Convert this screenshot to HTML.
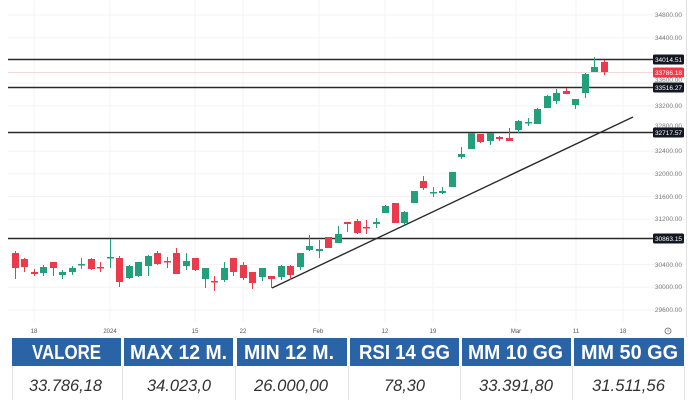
<!DOCTYPE html>
<html><head><meta charset="utf-8"><style>
html,body{margin:0;padding:0;background:#fff;}
svg{display:block;}
.g{fill:#22a07c}.r{fill:#ea3a4b}
.ax{font-family:"Liberation Sans",sans-serif;font-size:6.5px;fill:#7a7a7a;text-anchor:end}
.xl{font-family:"Liberation Sans",sans-serif;font-size:6px;fill:#555;text-anchor:middle}
.lb{font-family:"Liberation Sans",sans-serif;font-size:6.5px;fill:#fff;text-anchor:middle}
.hd{font-family:"Liberation Sans",sans-serif;font-weight:bold;font-size:20px;fill:#fff}
.vl{font-family:"Liberation Sans",sans-serif;font-style:italic;font-size:17px;fill:#333}
</style></head><body>
<svg width="700" height="400" viewBox="0 0 700 400" xmlns="http://www.w3.org/2000/svg">
<rect width="700" height="400" fill="#fff"/>
<!-- grid -->
<g stroke="#f3f3f3" stroke-width="1">
<line x1="8" x2="686" y1="15" y2="15"/><line x1="8" x2="686" y1="37.7" y2="37.7"/><line x1="8" x2="686" y1="83.1" y2="83.1"/><line x1="8" x2="686" y1="105.8" y2="105.8"/><line x1="8" x2="686" y1="151.2" y2="151.2"/><line x1="8" x2="686" y1="173.8" y2="173.8"/><line x1="8" x2="686" y1="196.5" y2="196.5"/><line x1="8" x2="686" y1="219.2" y2="219.2"/><line x1="8" x2="686" y1="264.6" y2="264.6"/><line x1="8" x2="686" y1="287.3" y2="287.3"/><line x1="8" x2="686" y1="310" y2="310"/>
<line x1="34" x2="34" y1="0" y2="322"/><line x1="110" x2="110" y1="0" y2="322"/><line x1="195" x2="195" y1="0" y2="322"/><line x1="243" x2="243" y1="0" y2="322"/><line x1="319" x2="319" y1="0" y2="322"/><line x1="385" x2="385" y1="0" y2="322"/><line x1="433" x2="433" y1="0" y2="322"/><line x1="516" x2="516" y1="0" y2="322"/><line x1="576" x2="576" y1="0" y2="322"/><line x1="623" x2="623" y1="0" y2="322"/>
</g>
<line x1="686.5" x2="686.5" y1="0" y2="337" stroke="#e2e2e2" stroke-width="1"/>
<!-- price line -->
<line x1="8" x2="653" y1="72.5" y2="72.5" stroke="#f2d9db" stroke-width="1"/>
<!-- horizontal levels -->
<g stroke="#2a2a2a" stroke-width="1.4">
<line x1="8" x2="653" y1="59.5" y2="59.5"/>
<line x1="8" x2="653" y1="87.5" y2="87.5"/>
<line x1="8" x2="653" y1="132.5" y2="132.5"/>
<line x1="8" x2="653" y1="238.5" y2="238.5"/>
</g>
<!-- trend line -->
<line x1="272" y1="288" x2="633" y2="117" stroke="#2a2a2a" stroke-width="1.4"/>
<!-- candles -->
<rect class="r" x="15" y="251" width="1" height="28"/><rect class="r" x="12" y="253" width="7" height="15"/>
<rect class="r" x="24" y="258" width="1" height="14"/><rect class="r" x="21" y="259" width="7" height="8"/>
<rect class="r" x="34" y="269" width="1" height="7"/><rect class="r" x="31" y="272" width="7" height="2"/>
<rect class="g" x="43" y="265" width="1" height="11"/><rect class="g" x="40" y="267" width="7" height="6"/>
<rect class="r" x="53" y="262" width="1" height="14"/><rect class="r" x="50" y="262" width="7" height="6"/>
<rect class="g" x="62" y="270" width="1" height="9"/><rect class="g" x="59" y="272" width="7" height="3"/>
<rect class="g" x="72" y="266" width="1" height="9"/><rect class="g" x="69" y="268" width="7" height="4"/>
<rect class="g" x="81" y="258" width="1" height="11"/><rect class="g" x="78" y="264" width="7" height="1.5"/>
<rect class="r" x="91" y="258" width="1" height="12"/><rect class="r" x="88" y="259" width="7" height="10"/>
<rect class="r" x="100" y="262" width="1" height="10"/><rect class="r" x="97" y="267" width="7" height="1.5"/>
<rect class="g" x="110" y="239" width="1" height="29"/><rect class="g" x="107" y="257" width="7" height="1.5"/>
<rect class="r" x="119" y="256" width="1" height="31"/><rect class="r" x="116" y="258" width="7" height="24"/>
<rect class="g" x="129" y="265" width="1" height="14"/><rect class="g" x="126" y="266" width="7" height="12"/>
<rect class="g" x="138" y="262" width="1" height="15"/><rect class="g" x="135" y="262" width="7" height="14"/>
<rect class="g" x="148" y="255" width="1" height="21"/><rect class="g" x="145" y="256" width="7" height="10"/>
<rect class="r" x="157" y="251" width="1" height="14"/><rect class="r" x="154" y="253" width="7" height="11"/>
<rect class="r" x="167" y="257" width="1" height="11"/><rect class="r" x="164" y="261" width="7" height="1.5"/>
<rect class="r" x="176" y="248" width="1" height="26"/><rect class="r" x="173" y="253" width="7" height="21"/>
<rect class="g" x="186" y="253" width="1" height="17"/><rect class="g" x="183" y="261" width="7" height="5"/>
<rect class="r" x="195" y="258" width="1" height="13"/><rect class="r" x="192" y="258" width="7" height="12"/>
<rect class="g" x="205" y="268" width="1" height="20"/><rect class="g" x="202" y="268" width="7" height="11"/>
<rect class="r" x="214" y="276" width="1" height="15"/><rect class="r" x="211" y="281" width="7" height="1.5"/>
<rect class="g" x="224" y="262" width="1" height="20"/><rect class="g" x="221" y="268" width="7" height="12"/>
<rect class="r" x="233" y="258" width="1" height="18"/><rect class="r" x="230" y="258" width="7" height="14"/>
<rect class="r" x="243" y="262" width="1" height="18"/><rect class="r" x="240" y="265" width="7" height="13"/>
<rect class="r" x="252" y="272" width="1" height="17"/><rect class="r" x="249" y="272" width="7" height="11"/>
<rect class="g" x="262" y="268" width="1" height="13"/><rect class="g" x="259" y="268" width="7" height="9"/>
<rect class="r" x="271" y="276" width="1" height="12"/><rect class="r" x="268" y="276" width="7" height="3"/>
<rect class="g" x="281" y="265" width="1" height="15"/><rect class="g" x="278" y="266" width="7" height="11"/>
<rect class="r" x="290" y="265" width="1" height="15"/><rect class="r" x="287" y="266" width="7" height="9"/>
<rect class="g" x="300" y="253" width="1" height="17"/><rect class="g" x="297" y="253" width="7" height="14"/>
<rect class="g" x="309" y="235" width="1" height="16"/><rect class="g" x="306" y="246" width="7" height="4"/>
<rect class="g" x="319" y="240" width="1" height="18"/><rect class="g" x="316" y="249" width="7" height="2"/>
<rect class="r" x="328" y="237" width="1" height="11"/><rect class="r" x="325" y="237" width="7" height="11"/>
<rect class="g" x="338" y="226" width="1" height="17"/><rect class="g" x="335" y="234" width="7" height="9"/>
<rect class="r" x="347" y="222" width="1" height="10"/><rect class="r" x="344" y="222" width="7" height="2"/>
<rect class="r" x="357" y="219" width="1" height="15"/><rect class="r" x="354" y="221" width="7" height="12"/>
<rect class="r" x="366" y="220" width="1" height="14"/><rect class="r" x="363" y="227" width="7" height="1.5"/>
<rect class="g" x="376" y="218" width="1" height="10"/><rect class="g" x="373" y="222" width="7" height="2"/>
<rect class="g" x="385" y="205" width="1" height="8"/><rect class="g" x="382" y="206" width="7" height="7"/>
<rect class="r" x="395" y="203" width="1" height="20"/><rect class="r" x="392" y="203" width="7" height="20"/>
<rect class="g" x="404" y="211" width="1" height="14"/><rect class="g" x="401" y="212" width="7" height="11"/>
<rect class="g" x="414" y="191" width="1" height="12"/><rect class="g" x="411" y="191" width="7" height="12"/>
<rect class="r" x="423" y="176" width="1" height="14"/><rect class="r" x="420" y="181" width="7" height="7"/>
<rect class="g" x="433" y="187" width="1" height="10"/><rect class="g" x="430" y="192" width="7" height="1.5"/>
<rect class="g" x="442" y="187" width="1" height="7"/><rect class="g" x="439" y="191" width="7" height="2"/>
<rect class="g" x="452" y="172" width="1" height="15"/><rect class="g" x="449" y="172" width="7" height="15"/>
<rect class="g" x="461" y="147" width="1" height="12"/><rect class="g" x="458" y="154" width="7" height="3"/>
<rect class="g" x="471" y="133" width="1" height="16"/><rect class="g" x="468" y="133" width="7" height="16"/>
<rect class="r" x="480" y="134" width="1" height="9"/><rect class="r" x="477" y="134" width="7" height="8"/>
<rect class="g" x="490" y="133" width="1" height="12"/><rect class="g" x="487" y="133" width="7" height="8"/>
<rect class="r" x="499" y="136" width="1" height="5"/><rect class="r" x="496" y="137" width="7" height="2"/>
<rect class="r" x="509" y="128" width="1" height="13"/><rect class="r" x="506" y="138" width="7" height="3"/>
<rect class="g" x="518" y="120" width="1" height="13"/><rect class="g" x="515" y="121" width="7" height="9"/>
<rect class="g" x="528" y="118" width="1" height="8"/><rect class="g" x="525" y="122" width="7" height="1.5"/>
<rect class="g" x="537" y="108" width="1" height="16"/><rect class="g" x="534" y="109" width="7" height="15"/>
<rect class="g" x="547" y="95" width="1" height="13"/><rect class="g" x="544" y="96" width="7" height="12"/>
<rect class="g" x="556" y="89" width="1" height="15"/><rect class="g" x="553" y="93" width="7" height="8"/>
<rect class="r" x="566" y="88" width="1" height="6"/><rect class="r" x="563" y="91" width="7" height="3"/>
<rect class="g" x="575" y="99" width="1" height="10"/><rect class="g" x="572" y="99" width="7" height="6"/>
<rect class="g" x="585" y="73" width="1" height="25"/><rect class="g" x="582" y="74" width="7" height="19"/>
<rect class="g" x="594" y="57" width="1" height="15"/><rect class="g" x="591" y="67" width="7" height="5"/>
<rect class="r" x="604" y="60" width="1" height="15"/><rect class="r" x="601" y="62" width="7" height="10"/>
<!-- y axis labels -->
<text class="ax" x="682" y="17">34800.00</text>
<text class="ax" x="682" y="40">34400.00</text>
<text class="ax" x="682" y="62">34000.00</text>
<text class="ax" x="682" y="82">33600.00</text>
<text class="ax" x="682" y="108">33200.00</text>
<text class="ax" x="682" y="128">32800.00</text>
<text class="ax" x="682" y="153">32400.00</text>
<text class="ax" x="682" y="176">32000.00</text>
<text class="ax" x="682" y="199">31600.00</text>
<text class="ax" x="682" y="221">31200.00</text>
<text class="ax" x="682" y="243">30800.00</text>
<text class="ax" x="682" y="267">30400.00</text>
<text class="ax" x="682" y="289">30000.00</text>
<text class="ax" x="682" y="312">29600.00</text>
<!-- level labels -->
<rect x="653" y="54.5" width="31" height="10" rx="1.5" fill="#131722"/><text class="lb" x="668.5" y="62">34014.51</text>
<rect x="653" y="67.5" width="31" height="10" rx="1.5" fill="#f23645"/><text class="lb" x="668.5" y="75">33786.18</text>
<rect x="653" y="82.5" width="31" height="10" rx="1.5" fill="#131722"/><text class="lb" x="668.5" y="90">33516.27</text>
<rect x="653" y="127.5" width="31" height="10" rx="1.5" fill="#131722"/><text class="lb" x="668.5" y="135">32717.57</text>
<rect x="653" y="233.5" width="31" height="10" rx="1.5" fill="#131722"/><text class="lb" x="668.5" y="241">30863.15</text>
<!-- x axis labels -->
<text class="xl" x="34" y="333">18</text>
<text class="xl" x="110" y="333">2024</text>
<text class="xl" x="195" y="333">15</text>
<text class="xl" x="243" y="333">22</text>
<text class="xl" x="318" y="333">Feb</text>
<text class="xl" x="385" y="333">12</text>
<text class="xl" x="433" y="333">19</text>
<text class="xl" x="516" y="333">Mar</text>
<text class="xl" x="576" y="333">11</text>
<text class="xl" x="623" y="333">18</text>
<circle cx="668" cy="331" r="3" fill="none" stroke="#666" stroke-width="0.8"/>
<path d="M668 329.5 V331 H669.3" fill="none" stroke="#666" stroke-width="0.6"/>
<!-- table -->
<g fill="#2b63a7">
<rect x="12" y="338" width="109" height="28"/>
<rect x="124" y="338" width="109" height="28"/>
<rect x="237" y="338" width="110" height="28"/>
<rect x="350" y="338" width="109" height="28"/>
<rect x="462" y="338" width="109" height="28"/>
<rect x="574" y="338" width="110" height="28"/>
</g>
<g stroke="#e3e3e3" stroke-width="1">
<line x1="12.5" x2="12.5" y1="366" y2="400"/>
<line x1="122.5" x2="122.5" y1="366" y2="400"/>
<line x1="235.5" x2="235.5" y1="366" y2="400"/>
<line x1="348.5" x2="348.5" y1="366" y2="400"/>
<line x1="460.5" x2="460.5" y1="366" y2="400"/>
<line x1="572.5" x2="572.5" y1="366" y2="400"/>
<line x1="684.5" x2="684.5" y1="366" y2="400"/>
</g>
<text class="hd" x="32" y="359" textLength="69" lengthAdjust="spacingAndGlyphs">VALORE</text>
<text class="hd" x="130" y="359" textLength="97" lengthAdjust="spacingAndGlyphs">MAX 12 M.</text>
<text class="hd" x="244" y="359" textLength="90" lengthAdjust="spacingAndGlyphs">MIN 12 M.</text>
<text class="hd" x="359" y="359" textLength="91" lengthAdjust="spacingAndGlyphs">RSI 14 GG</text>
<text class="hd" x="468" y="359" textLength="95" lengthAdjust="spacingAndGlyphs">MM 10 GG</text>
<text class="hd" x="581" y="359" textLength="97" lengthAdjust="spacingAndGlyphs">MM 50 GG</text>
<text class="vl" x="29" y="391" textLength="73" lengthAdjust="spacingAndGlyphs">33.786,18</text>
<text class="vl" x="147" y="391" textLength="64" lengthAdjust="spacingAndGlyphs">34.023,0</text>
<text class="vl" x="254" y="391" textLength="74" lengthAdjust="spacingAndGlyphs">26.000,00</text>
<text class="vl" x="384" y="391" textLength="41" lengthAdjust="spacingAndGlyphs">78,30</text>
<text class="vl" x="479" y="391" textLength="74" lengthAdjust="spacingAndGlyphs">33.391,80</text>
<text class="vl" x="592" y="391" textLength="73" lengthAdjust="spacingAndGlyphs">31.511,56</text>
</svg>
</body></html>
